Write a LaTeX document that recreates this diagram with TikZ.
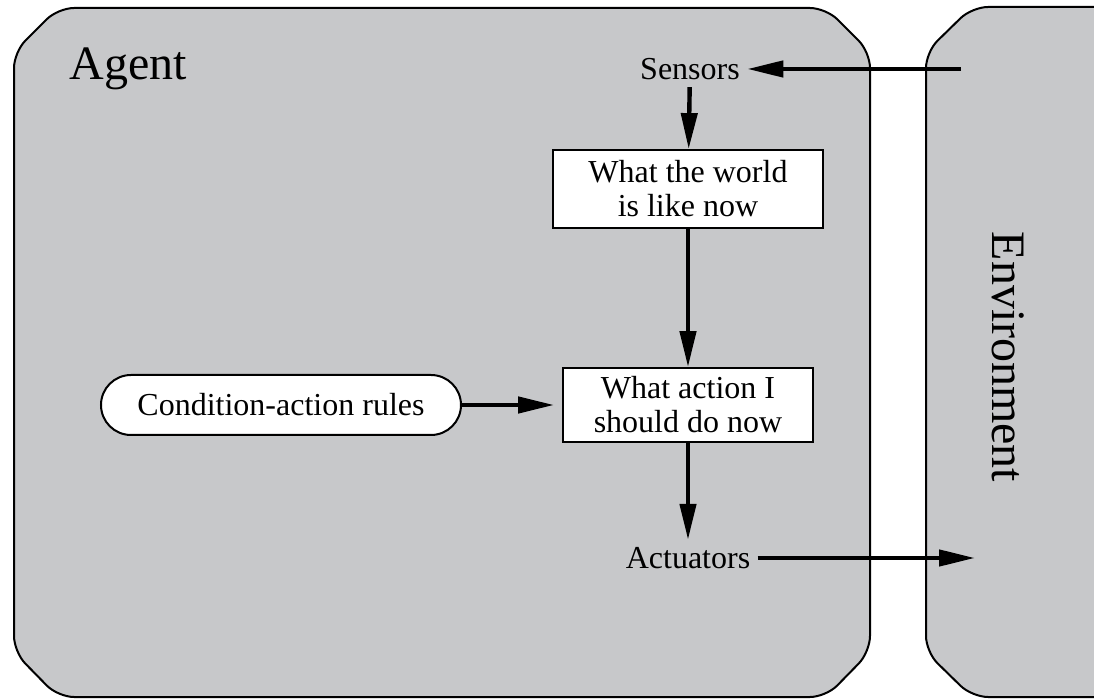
\documentclass[tikz,border=0pt]{standalone}
\usepackage{fontspec}
\setmainfont{Liberation Serif}
\usetikzlibrary{shapes,arrows.meta}
\definecolor{panelgray}{RGB}{199,200,202}

\begin{document}
\begin{tikzpicture}[x=0.5pt, y=-0.5pt, thick]
\tikzstyle{panel}=[draw=black, fill=panelgray, line width=1pt, rounded corners=8pt]
\tikzstyle{vertexr}=[rectangle, draw=black, fill=white, line width=0.9pt, align=center, inner sep=2pt, font=\fontsize{16}{17}\selectfont]
\tikzstyle{vertexp}=[rectangle, rounded corners=15pt, draw=black, fill=white, line width=1pt, inner sep=2pt, font=\fontsize{16}{17}\selectfont]
\tikzstyle{vertext}=[font=\fontsize{16}{17}\selectfont]
\tikzstyle{drawstyle}=[line width=2.2pt, -{Triangle[length=18pt,width=8pt]}]

\useasboundingbox (0,0) rectangle (1094,700);
\clip (0,0) rectangle (1094,700);

\draw[panel] (14,52) -- (14,652) -- (58,697) -- (826,697) -- (870,652) -- (870,52) -- (826,8) -- (58,8) -- cycle;
\draw[panel] (926,52) -- (926,652) -- (972,697) -- (1200,697) -- (1200,7) -- (972,7) -- cycle;

\node[anchor=west, font=\fontsize{24}{26}\selectfont] (agent) at (62,69) {Agent};
\node[rotate=-90, font=\fontsize{24}{26}\selectfont] (env) at (1008,357) {Environment};

\node[vertext] (sensors) at (690,69) {Sensors};
\node[vertexr, minimum width=135pt, minimum height=39pt] (world) at (688,189) {What the world\\is like now};
\node[vertexr, minimum width=125pt, minimum height=37pt] (action) at (688,405) {What action I\\should do now};
\node[vertexp, minimum width=180pt, minimum height=30pt] (rules) at (281,405) {Condition-action rules};
\node[vertext] (actuators) at (688,558) {Actuators};
\coordinate (envin) at (961,69);
\coordinate (envout) at (975,558);

\draw[drawstyle] (envin) -- (sensors);
\draw[drawstyle] (sensors) -- (world);
\draw[drawstyle] (world) -- (action);
\draw[drawstyle, shorten >=4pt] (rules) -- (action);
\draw[drawstyle] (action) -- (actuators);
\draw[drawstyle] (actuators) -- (envout);
\end{tikzpicture}
\end{document}
